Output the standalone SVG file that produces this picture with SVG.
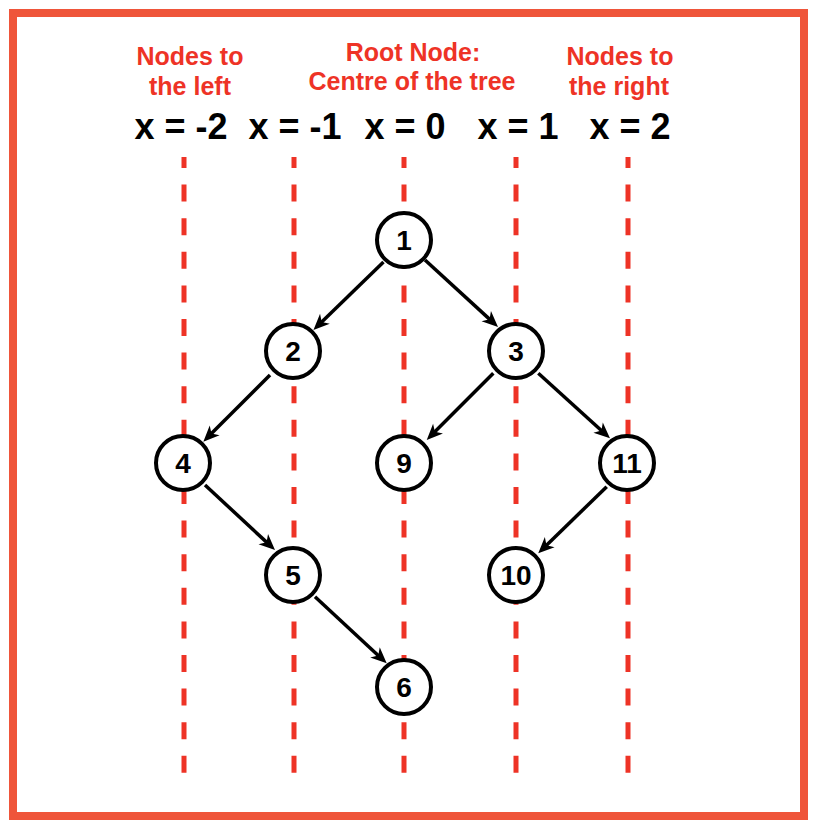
<svg xmlns="http://www.w3.org/2000/svg" width="818" height="832" viewBox="0 0 818 832">
<style>
.title{font-family:"Liberation Sans",Arial,sans-serif;font-weight:bold;font-size:25px;fill:#EE3326;text-anchor:middle}
.xl{font-family:"Liberation Sans",Arial,sans-serif;font-weight:bold;font-size:36px;fill:#000;text-anchor:middle}
.guide{stroke:#EE3326;stroke-width:5;stroke-dasharray:17 16.6;stroke-dashoffset:6;fill:none}
.node circle{fill:#fff;stroke:#000;stroke-width:4}
.node text{font-family:"Liberation Sans",Arial,sans-serif;font-weight:bold;font-size:28px;fill:#000;text-anchor:middle}
.edge{stroke:#000;stroke-width:3.5;fill:none;marker-end:url(#arrow)}
</style>
<defs>
<marker id="arrow" markerUnits="userSpaceOnUse" markerWidth="18" markerHeight="16" refX="7" refY="7.5" orient="auto" overflow="visible">
<path d="M0,0.5 L16,7.5 L0,14.5 L4.5,7.5 Z" fill="#000"/>
</marker>
</defs>
<rect x="13" y="13" width="791" height="803" fill="#fff" stroke="#EF553A" stroke-width="8"/>
<g id="labels">
<text class="title" x="190" y="65">Nodes to</text>
<text class="title" x="190" y="95">the left</text>
<text class="title" x="413" y="61">Root Node:</text>
<text class="title" x="412" y="90">Centre of the tree</text>
<text class="title" x="620" y="65">Nodes to</text>
<text class="title" x="619" y="95">the right</text>
<text class="xl" x="181" y="139">x = -2</text>
<text class="xl" x="295" y="139">x = -1</text>
<text class="xl" x="405" y="139">x = 0</text>
<text class="xl" x="518" y="139">x = 1</text>
<text class="xl" x="630" y="139">x = 2</text>
</g>
<g id="guides">
<line class="guide" x1="184" y1="157" x2="184" y2="773"/>
<line class="guide" x1="294" y1="157" x2="294" y2="773"/>
<line class="guide" x1="404" y1="157" x2="404" y2="773"/>
<line class="guide" x1="516" y1="157" x2="516" y2="773"/>
<line class="guide" x1="628" y1="157" x2="628" y2="773"/>
</g>
<g id="connectors">
<line class="edge" x1="383.5" y1="262" x2="319.9" y2="323.7"/>
<line class="edge" x1="425" y1="260" x2="491.4" y2="320.9"/>
<line class="edge" x1="270" y1="375" x2="209.7" y2="435.3"/>
<line class="edge" x1="493.3" y1="373.3" x2="433.1" y2="433.6"/>
<line class="edge" x1="538.3" y1="373.3" x2="603.3" y2="432.3"/>
<line class="edge" x1="205" y1="485" x2="268.4" y2="543.9"/>
<line class="edge" x1="315" y1="596.7" x2="380.1" y2="657.2"/>
<line class="edge" x1="606.7" y1="486.7" x2="544.7" y2="547"/>
</g>
<g id="node1" class="node"><circle cx="404" cy="240" r="27"/><text x="404" y="250">1</text></g>
<g id="node2" class="node"><circle cx="293" cy="351" r="27"/><text x="293" y="361">2</text></g>
<g id="node3" class="node"><circle cx="516" cy="351" r="27"/><text x="516" y="361">3</text></g>
<g id="node4" class="node"><circle cx="183" cy="463" r="27"/><text x="183" y="473">4</text></g>
<g id="node9" class="node"><circle cx="404" cy="463" r="27"/><text x="404" y="473">9</text></g>
<g id="node11" class="node"><circle cx="627" cy="463" r="27"/><text x="627" y="473">11</text></g>
<g id="node5" class="node"><circle cx="293" cy="575" r="27"/><text x="293" y="585">5</text></g>
<g id="node10" class="node"><circle cx="516" cy="575" r="27"/><text x="516" y="585">10</text></g>
<g id="node6" class="node"><circle cx="404" cy="687" r="27"/><text x="404" y="697">6</text></g>
</svg>
